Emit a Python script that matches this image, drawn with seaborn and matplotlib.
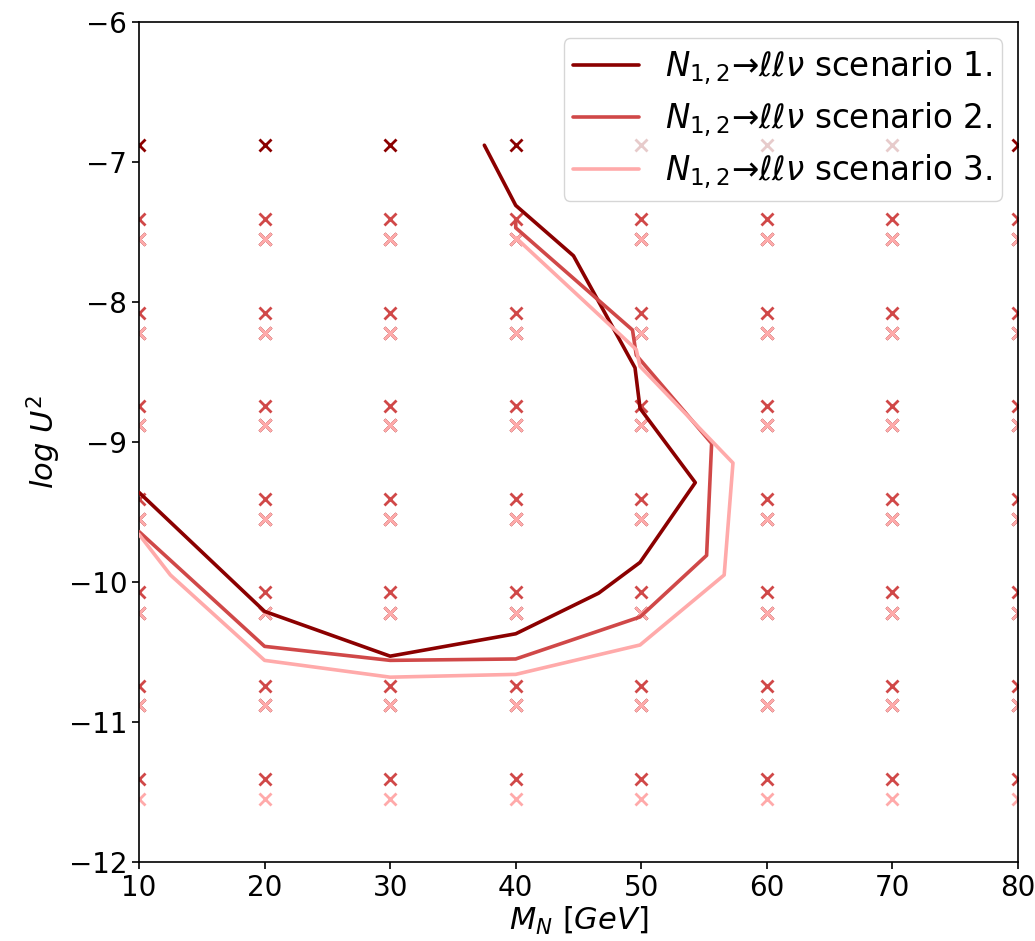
import matplotlib
matplotlib.use("Agg")
import matplotlib.pyplot as plt
import numpy as np
import seaborn as sns

# grid of simulated mass points
masses = [10, 20, 30, 40, 50, 60, 70, 80]
logu2_s1 = [-6.88, -7.55, -8.22, -8.88, -9.55, -10.22, -10.88]
logu2_s2 = [-7.41, -8.08, -8.74, -9.41, -10.07, -10.74, -11.41]
logu2_s3 = [-7.55, -8.22, -8.88, -9.55, -10.22, -10.88, -11.55]

# sensitivity contours
x1 = [37.5, 40.0, 44.6, 49.5, 49.9, 54.3, 49.9, 46.6, 40.0, 30.0, 20.0, 10.0]
y1 = [-6.88, -7.31, -7.67, -8.47, -8.76, -9.29, -9.86, -10.08, -10.37, -10.53, -10.21, -9.36]
x2 = [40.0, 40.0, 49.3, 49.6, 55.6, 55.2, 49.9, 40.0, 30.0, 20.0, 10.0]
y2 = [-7.41, -7.47, -8.20, -8.38, -9.01, -9.81, -10.25, -10.55, -10.56, -10.46, -9.64]
x3 = [40.0, 49.6, 49.9, 57.3, 56.6, 49.9, 40.0, 30.0, 20.0, 12.5, 10.0]
y3 = [-7.54, -8.34, -8.46, -9.15, -9.95, -10.45, -10.66, -10.68, -10.56, -9.95, -9.66]

labels = [r"$N_{1,2}$→$\ell\ell\nu$ scenario %d." % i for i in (1, 2, 3)]
colors = ["#8b0000", "#d04848", "#ffaaaa"]

sns.set_theme(style="ticks")
plt.rcParams["font.family"] = ["DejaVu Sans"]
plt.rcParams["axes.edgecolor"] = "black"
plt.rcParams["xtick.color"] = "black"
plt.rcParams["ytick.color"] = "black"
plt.rcParams["text.color"] = "black"
plt.rcParams["axes.labelcolor"] = "black"

fig, ax = plt.subplots(figsize=(10.35, 9.41), dpi=100)
fig.subplots_adjust(left=0.1343, right=0.9836, top=0.9766, bottom=0.084)

for rows, c in zip([logu2_s1, logu2_s2, logu2_s3], colors):
    gx, gy = np.meshgrid(masses, rows)
    sns.scatterplot(x=gx.ravel(), y=gy.ravel(), marker="x", s=75,
                    color=c, linewidth=2, ax=ax, legend=False, zorder=2)

for xs, ys, c, lab in zip([x1, x2, x3], [y1, y2, y3], colors, labels):
    sns.lineplot(x=xs, y=ys, sort=False, estimator=None, color=c,
                 linewidth=2.6, label=lab, ax=ax, zorder=3)

ax.set_xlim(10, 80)
ax.set_ylim(-12, -6)
ax.set_xticks(masses)
ax.set_yticks(range(-12, -5))
ax.tick_params(labelsize=20, length=5, width=1.2)
ax.set_xlabel(r"$M_N\ [GeV]$", fontsize=22, labelpad=2)
ax.set_ylabel(r"$log\ U^2$", fontsize=22)
for sp in ax.spines.values():
    sp.set_linewidth(1.2)

ax.legend(loc="upper right", fontsize=23.5, handlelength=2.0, handletextpad=0.8,
          framealpha=0.8, labelspacing=0.4, borderaxespad=0.5, borderpad=0.3)

plt.savefig("out.png", dpi=100)
plt.close()
